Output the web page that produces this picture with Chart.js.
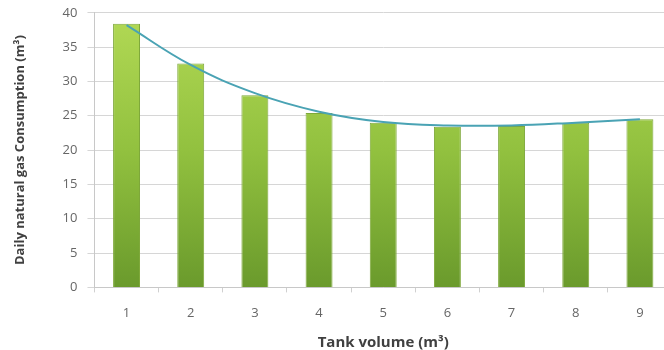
<!DOCTYPE html>
<html>
<head>
<meta charset="utf-8">
<script src="https://cdn.jsdelivr.net/npm/chart.js@4"></script>
<style>
html,body{margin:0;padding:0;background:#fff;overflow:hidden;width:664px;height:350px;}
#wrap{width:680px;height:355px;margin-top:-5px;}
canvas{display:block;}
</style>
</head>
<body>
<div id="wrap"><canvas id="c" width="680" height="355"></canvas></div>
<script>
const categories = ['1','2','3','4','5','6','7','8','9'];
const consumption = [38.4, 32.6, 28.0, 25.4, 24.0, 23.4, 23.5, 24.0, 24.5];
const trend = [38.2, 32.4, 28.3, 25.6, 24.1, 23.6, 23.6, 24.0, 24.5];
const yTicks = [0, 5, 10, 15, 20, 25, 30, 35, 40];

const ctx = document.getElementById('c').getContext('2d');

function barFill(context) {
  const chart = context.chart;
  const area = chart.chartArea;
  if (!area) return '#8dbb3c';
  const g = chart.ctx.createLinearGradient(0, area.top, 0, area.bottom);
  g.addColorStop(0, '#b2d955');
  g.addColorStop(0.5, '#92c13f');
  g.addColorStop(1, '#6a9a2c');
  return g;
}

new Chart(ctx, {
  data: {
    labels: categories,
    datasets: [
      {
        type: 'line',
        data: trend,
        borderColor: '#4aa3b4',
        borderWidth: 2,
        pointRadius: 0,
        tension: 0.4,
        fill: false,
        order: 0
      },
      {
        type: 'bar',
        data: consumption,
        backgroundColor: barFill,
        borderColor: '#7ea83a',
        borderWidth: 1,
        barPercentage: 0.42,
        categoryPercentage: 1.0,
        order: 1
      }
    ]
  },
  options: {
    responsive: false,
    animation: false,
    layout: { padding: { top: 0, right: 8, left: 8, bottom: -2 } },
    plugins: { legend: { display: false }, tooltip: { enabled: false } },
    scales: {
      x: {
        type: 'category',
        offset: true,
        grid: { display: true, drawOnChartArea: false, drawTicks: true, tickLength: 5, color: '#d0d0d0', offset: true },
        border: { display: true, color: '#c8c8c8' },
        ticks: { color: '#666666', font: { family: 'Open Sans', size: 13 }, padding: 13 },
        title: { display: true, text: 'Tank volume (m³)', color: '#404040', font: { family: 'Open Sans', size: 15, weight: 'bold' }, padding: { top: 0, bottom: 0 } }
      },
      y: {
        min: 0,
        max: 40,
        afterBuildTicks: (axis) => { axis.ticks = yTicks.map(v => ({ value: v })); },
        grid: { color: '#d6d6d6', lineWidth: 1, tickLength: 7 },
        border: { display: true, color: '#c8c8c8' },
        ticks: { color: '#666666', font: { family: 'Open Sans', size: 13 }, padding: 10 },
        title: { display: true, text: 'Daily natural gas Consumption (m³)', color: '#404040', font: { family: 'Open Sans', size: 13, weight: 'bold' }, padding: { bottom: 25 } }
      }
    }
  }
});
</script>
</body>
</html>
